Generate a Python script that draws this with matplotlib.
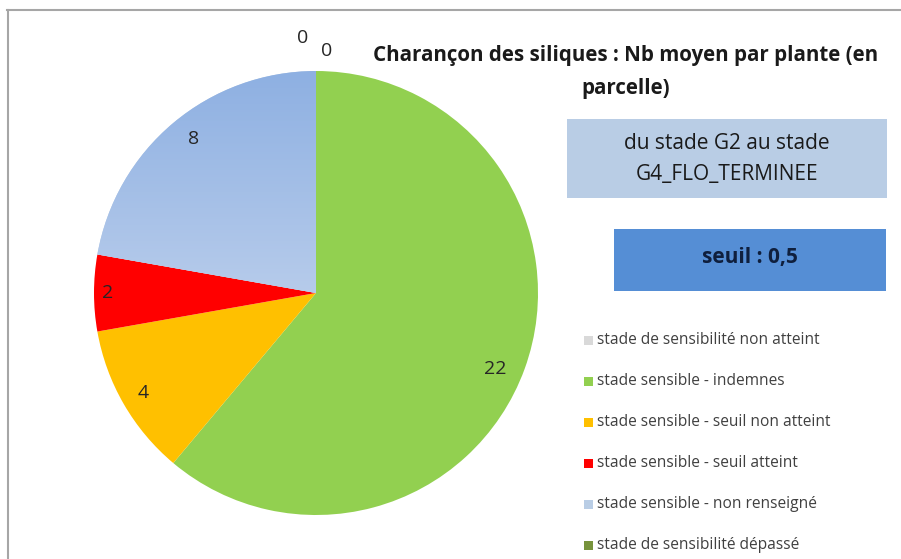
import numpy as np
import matplotlib.pyplot as plt
from matplotlib.patches import Rectangle
from matplotlib.lines import Line2D
from matplotlib.colors import LinearSegmentedColormap

categories = [
    "stade de sensibilité non atteint",
    "stade sensible - indemnes",
    "stade sensible - seuil non atteint",
    "stade sensible - seuil atteint",
    "stade sensible - non renseigné",
    "stade de sensibilité dépassé",
]
values = [0, 22, 4, 2, 8, 0]
colors = ["#d9d9d9", "#92d050", "#ffc000", "#ff0000", "#b9cde5", "#77933c"]
title = "Charançon des siliques : Nb moyen par plante (en\nparcelle)"
stage_text = "du stade G2 au stade\nG4_FLO_TERMINEE"
threshold_text = "seuil : 0,5"

W, H = 901, 559
fig = plt.figure(figsize=(W / 100, H / 100), dpi=100)
fig.patch.set_facecolor("white")
font = "Open Sans"

# frame (only top and left edges visible)
fig.add_artist(Line2D([7 / W, 1], [1 - 9.5 / H] * 2, color="#a6a6a6", lw=1.5))
fig.add_artist(Line2D([7.5 / W] * 2, [0, 1 - 9.5 / H], color="#a6a6a6", lw=1.5))

# pie axes
cx, cy, r = 316, 293, 222
ax = fig.add_axes([(cx - r) / W, (H - cy - r) / H, 2 * r / W, 2 * r / H])
wedges, _ = ax.pie(values, colors=colors, startangle=90, counterclock=False,
                   radius=1.0, wedgeprops=dict(linewidth=0))
ax.set_xlim(-1, 1)
ax.set_ylim(-1, 1)
ax.set_aspect("equal")
ax.axis("off")

# gradient fill for the "non renseigné" slice
grad = np.linspace(0, 1, 256).reshape(-1, 1)
cmap = LinearSegmentedColormap.from_list("g", ["#dfe7f4", "#8eb0e2"])
im = ax.imshow(grad, cmap=cmap, extent=[-1, 1, -1, 1], origin="lower",
               aspect="auto", zorder=wedges[4].get_zorder() + 0.1)
im.set_clip_path(wedges[4])

# data labels
label_r = [1.15, 0.86, 0.90, 0.94, 0.89, 1.09]
label_dx = [-0.06, 0, 0, 0, 0.02, 0.05]
label_dy = [0, -0.05, 0, 0, 0.01, 0]
total = sum(values)
start = 90.0
for i, v in enumerate(values):
    span = 360.0 * v / total
    mid = np.deg2rad(start - span / 2)
    start -= span
    x = label_r[i] * np.cos(mid) + label_dx[i]
    y = label_r[i] * np.sin(mid) + label_dy[i]
    ax.text(x, y, str(v), ha="center", va="center", fontsize=14,
            family=font, color="#262626", zorder=10, clip_on=False)

# title
fig.text(626 / W, 1 - 72 / H, title, ha="center", va="center", fontsize=14.8,
         family=font, fontweight="bold", color="#1a1a1a", linespacing=1.72)

# stage box
fig.add_artist(Rectangle((567 / W, 1 - 198 / H), 320 / W, 79 / H,
                         transform=fig.transFigure, facecolor="#b9cde5",
                         edgecolor="none"))
fig.text(727 / W, 1 - 159 / H, stage_text, ha="center", va="center",
         fontsize=15, family=font, color="#1a1a1a", linespacing=1.6)

# threshold box
fig.add_artist(Rectangle((614 / W, 1 - 291 / H), 272 / W, 62 / H,
                         transform=fig.transFigure, facecolor="#558ed5",
                         edgecolor="none"))
fig.text(750 / W, 1 - 257 / H, threshold_text, ha="center", va="center",
         fontsize=15, family=font, fontweight="bold", color="#0f1f3d")

# legend
for i, (lab, c) in enumerate(zip(categories, colors)):
    y = 1 - (340 + 41 * i) / H
    fig.add_artist(Rectangle((584 / W, y - 4.5 / H), 9 / W, 9 / H,
                             transform=fig.transFigure, facecolor=c,
                             edgecolor="none"))
    fig.text(597 / W, y, lab, ha="left", va="center", fontsize=11.2,
             family=font, color="#404040")

fig.savefig("out.png", dpi=100)
